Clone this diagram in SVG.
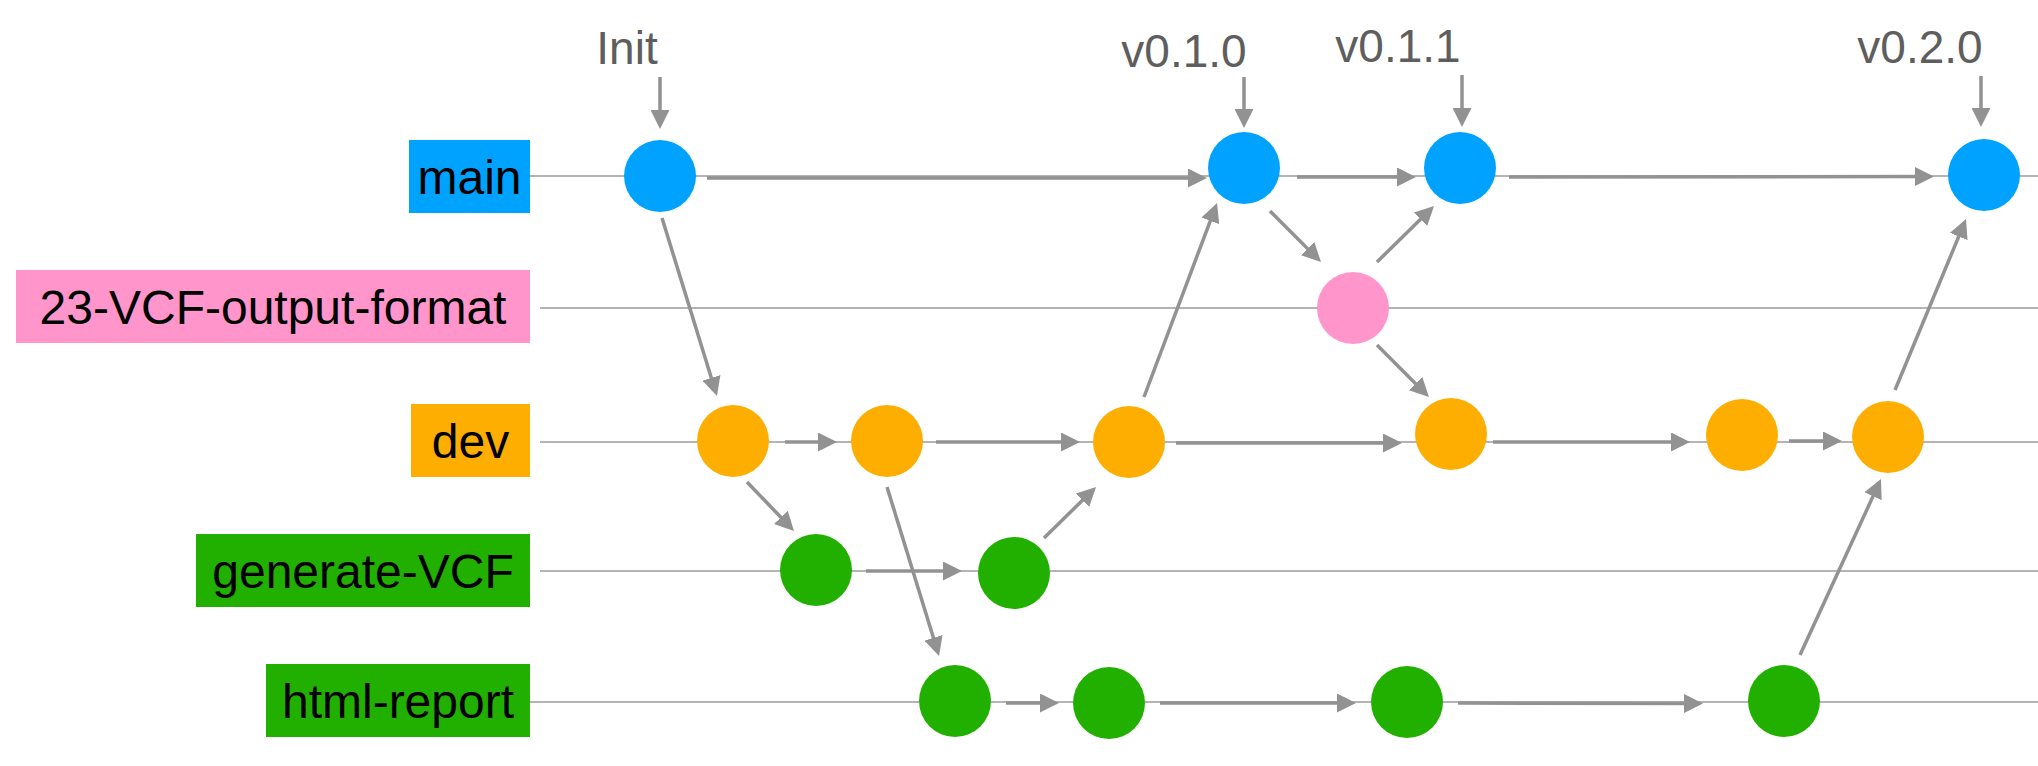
<svg xmlns="http://www.w3.org/2000/svg" width="2038" height="766" viewBox="0 0 2038 766">
<style>
.lane{stroke:#9b9b9b;stroke-width:1.5;fill:none}
.lbl{font-family:"Liberation Sans",Arial,sans-serif;font-size:48px;fill:#000;text-anchor:middle}
.tag{font-family:"Liberation Sans",Arial,sans-serif;font-size:46px;fill:#5e5e5e;text-anchor:middle}
.c{stroke:#929292;stroke-width:3.5;fill:none;marker-end:url(#ah)}
.blue{fill:#00a2ff}.pink{fill:#ff95ca}.orange{fill:#feae00}.green{fill:#21b000}
</style>
<defs>
<marker id="ah" markerUnits="userSpaceOnUse" markerWidth="19" markerHeight="19" viewBox="0 0 19 19" refX="9" refY="9.5" orient="auto">
<path d="M0,0 L19,9.5 L0,19 z" fill="#929292"/>
</marker>
<linearGradient id="fade" gradientUnits="userSpaceOnUse" x1="540" y1="0" x2="680" y2="0">
<stop offset="0" stop-color="#9b9b9b" stop-opacity="0"/>
<stop offset="1" stop-color="#9b9b9b" stop-opacity="1"/>
</linearGradient>
</defs>
<rect width="2038" height="766" fill="#fff"/>
<g id="lanes">
<line class="lane" x1="530" y1="176" x2="2038" y2="176"/>
<line class="lane" x1="540" y1="308" x2="2038" y2="308" stroke="url(#fade)"/>
<line class="lane" x1="540" y1="442" x2="2038" y2="442" stroke="url(#fade)"/>
<line class="lane" x1="540" y1="571" x2="2038" y2="571" stroke="url(#fade)"/>
<line class="lane" x1="530" y1="702" x2="2038" y2="702"/>
</g>
<g id="branch-main"><rect class="blue" x="409" y="140" width="121" height="73"/><text class="lbl" x="469.5" y="194">main</text></g>
<g id="branch-23-VCF-output-format"><rect class="pink" x="16" y="270" width="514" height="73"/><text class="lbl" x="273" y="324">23-VCF-output-format</text></g>
<g id="branch-dev"><rect class="orange" x="411" y="404" width="119" height="73"/><text class="lbl" x="470.5" y="458">dev</text></g>
<g id="branch-generate-VCF"><rect class="green" x="196" y="534" width="334" height="73"/><text class="lbl" x="363" y="588">generate-VCF</text></g>
<g id="branch-html-report"><rect class="green" x="266" y="664" width="264" height="73"/><text class="lbl" x="398" y="718">html-report</text></g>
<g id="tag-Init"><text class="tag" x="627" y="64">Init</text></g>
<g id="tag-v010"><text class="tag" x="1184" y="67">v0.1.0</text></g>
<g id="tag-v011"><text class="tag" x="1398" y="62">v0.1.1</text></g>
<g id="tag-v020"><text class="tag" x="1920" y="63">v0.2.0</text></g>
<g id="commit-main1"><circle class="blue" cx="660" cy="176" r="36"/></g>
<g id="commit-main2"><circle class="blue" cx="1244" cy="168" r="36"/></g>
<g id="commit-main3"><circle class="blue" cx="1460" cy="168" r="36"/></g>
<g id="commit-main4"><circle class="blue" cx="1984" cy="175" r="36"/></g>
<g id="commit-pink1"><circle class="pink" cx="1353" cy="308" r="36"/></g>
<g id="commit-dev1"><circle class="orange" cx="733" cy="441" r="36"/></g>
<g id="commit-dev2"><circle class="orange" cx="887" cy="441" r="36"/></g>
<g id="commit-dev3"><circle class="orange" cx="1129" cy="442" r="36"/></g>
<g id="commit-dev4"><circle class="orange" cx="1451" cy="434" r="36"/></g>
<g id="commit-dev5"><circle class="orange" cx="1742" cy="435" r="36"/></g>
<g id="commit-dev6"><circle class="orange" cx="1888" cy="437" r="36"/></g>
<g id="commit-gen1"><circle class="green" cx="816" cy="570" r="36"/></g>
<g id="commit-gen2"><circle class="green" cx="1014" cy="573" r="36"/></g>
<g id="commit-html1"><circle class="green" cx="955" cy="701" r="36"/></g>
<g id="commit-html2"><circle class="green" cx="1109" cy="703" r="36"/></g>
<g id="commit-html3"><circle class="green" cx="1407" cy="702" r="36"/></g>
<g id="commit-html4"><circle class="green" cx="1784" cy="701" r="36"/></g>
<g id="connectors">
<line class="c" x1="660" y1="77" x2="660" y2="119"/>
<line class="c" x1="1244" y1="77" x2="1244" y2="118"/>
<line class="c" x1="1462" y1="75" x2="1462" y2="117"/>
<line class="c" x1="1981" y1="76" x2="1981" y2="117"/>
<line class="c" x1="707" y1="178" x2="1197" y2="178"/>
<line class="c" x1="1297" y1="177" x2="1406" y2="177"/>
<line class="c" x1="1509" y1="177" x2="1924" y2="176.5"/>
<line class="c" x1="662" y1="218" x2="714" y2="386.4"/>
<line class="c" x1="785" y1="442" x2="827" y2="442"/>
<line class="c" x1="936" y1="442" x2="1070" y2="442"/>
<line class="c" x1="1176" y1="443" x2="1392" y2="443"/>
<line class="c" x1="1493" y1="442" x2="1680" y2="442"/>
<line class="c" x1="1789" y1="441" x2="1832" y2="441"/>
<line class="c" x1="747" y1="482" x2="787.1" y2="523.8"/>
<line class="c" x1="866" y1="571" x2="952" y2="571"/>
<line class="c" x1="1044" y1="538" x2="1088.9" y2="494"/>
<line class="c" x1="887" y1="487" x2="936.1" y2="646.4"/>
<line class="c" x1="1006" y1="703" x2="1049" y2="703"/>
<line class="c" x1="1160" y1="703" x2="1346" y2="703"/>
<line class="c" x1="1458" y1="703" x2="1693" y2="703.5"/>
<line class="c" x1="1800" y1="655" x2="1876.8" y2="488.1"/>
<line class="c" x1="1895" y1="390" x2="1962.2" y2="228.2"/>
<line class="c" x1="1144" y1="397" x2="1213.5" y2="212.4"/>
<line class="c" x1="1270" y1="211" x2="1313.9" y2="254.9"/>
<line class="c" x1="1377" y1="262" x2="1426.9" y2="213"/>
<line class="c" x1="1377" y1="345" x2="1421.9" y2="389.9"/>
</g>
</svg>
